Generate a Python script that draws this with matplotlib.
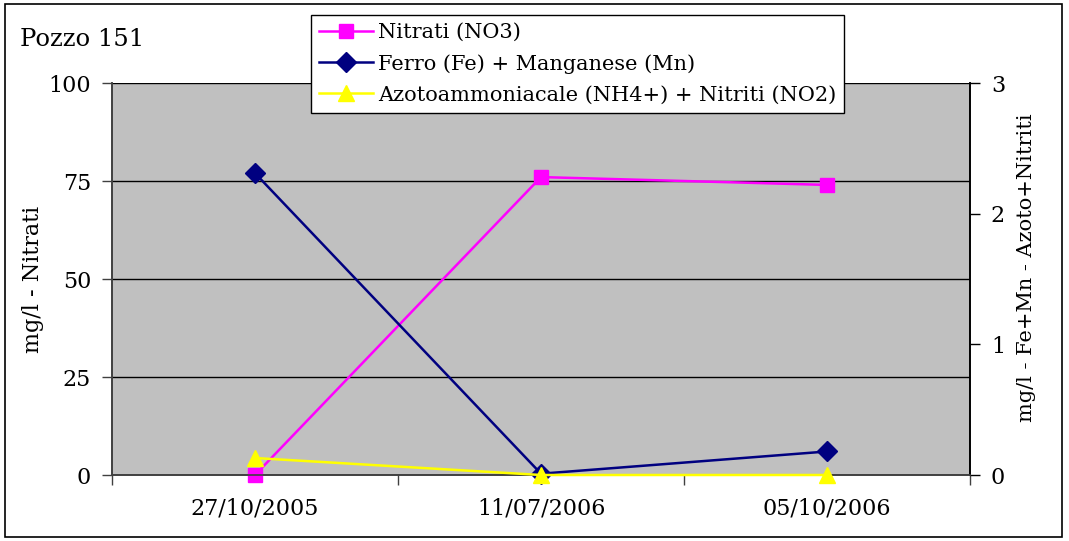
import matplotlib
matplotlib.use('Agg')
import matplotlib.pyplot as plt
from matplotlib.patches import Rectangle

# dati
date = ['27/10/2005', '11/07/2006', '05/10/2006']
nitrati = [0, 76, 74]            # asse sinistro
ferro_mn = [2.31, 0.01, 0.18]    # asse destro
azoto_nitriti = [0.13, 0, 0]     # asse destro

plt.rcParams['font.family'] = 'DejaVu Serif'
fs = 16

fig = plt.figure(figsize=(10.69, 5.41), dpi=100)
ax = fig.add_axes([112/1069, 1-475/541, (970-112)/1069, (475-83)/541])
ax2 = ax.twinx()

x = list(range(len(date)))

ax.set_facecolor('#C0C0C0')
ax.set_xlim(-0.5, 2.5)
ax.set_ylim(0, 100)
ax.set_yticks([0, 25, 50, 75, 100])
ax.grid(axis='y', color='black', linewidth=1)
ax.set_axisbelow(True)
ax.set_xticks(x)
ax.set_xticklabels(date, fontsize=fs)
ax.set_xticks([-0.5, 0.5, 1.5, 2.5], minor=True)
ax.tick_params(axis='x', which='major', length=0, pad=16)
ax.tick_params(axis='x', which='minor', length=7, width=1, color='#404040')
ax.tick_params(axis='y', labelsize=fs, length=7, width=1, color='#404040', pad=8)
ax.set_ylabel('mg/l - Nitrati', fontsize=fs, labelpad=3)

ax2.set_ylim(0, 3)
ax2.set_yticks([0, 1, 2, 3])
ax2.tick_params(axis='y', labelsize=fs, length=7, width=1, color='black', pad=8)
ax2.set_ylabel('mg/l - Fe+Mn - Azoto+Nitriti', fontsize=15)
ax2.yaxis.set_label_coords(1.055, 0.53)

for a in (ax, ax2):
    a.spines['top'].set_visible(False)
    a.spines['left'].set_color('#404040')
    a.spines['bottom'].set_color('#404040')
    a.spines['right'].set_color('black')
    for s in a.spines.values():
        s.set_linewidth(1.2)

l1, = ax.plot(x, nitrati, color='#FF00FF', marker='s', markersize=10,
              linewidth=1.8, clip_on=False, zorder=4, label='Nitrati (NO3)')
l2, = ax2.plot(x, ferro_mn, color='#000080', marker='D', markersize=10,
               linewidth=1.8, clip_on=False, zorder=4,
               label='Ferro (Fe) + Manganese (Mn)')
l3, = ax2.plot(x, azoto_nitriti, color='#FFFF00', marker='^', markersize=11,
               linewidth=1.8, clip_on=False, zorder=5,
               label='Azotoammoniacale (NH4+) + Nitriti (NO2)')

leg = fig.legend(handles=[l1, l2, l3], loc='upper left',
                 bbox_to_anchor=(311/1069, 1-15/541), fontsize=15,
                 frameon=True, fancybox=False, framealpha=1, edgecolor='black',
                 handlelength=2.6, borderpad=0.38, labelspacing=0.58,
                 handletextpad=0.25, borderaxespad=0)
leg.get_frame().set_linewidth(1)

fig.text(20/1069, 1-40/541, 'Pozzo 151', fontsize=17.5, va='center', ha='left')

fig.patches.append(Rectangle((5/1069, 4/541), 1057/1069, 533/541,
                             transform=fig.transFigure, fill=False,
                             edgecolor='black', linewidth=1.2))

fig.savefig('out.png', dpi=100)
